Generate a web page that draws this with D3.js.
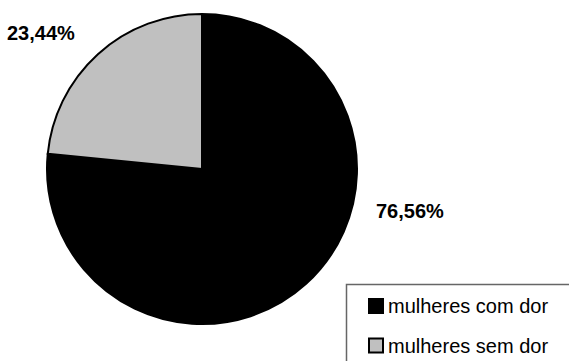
<!DOCTYPE html>
<html>
<head>
    <meta charset="utf-8">
    <title>Pie Chart</title>
    <script src="https://d3js.org/d3.v7.min.js"></script>
    <style>
        body { margin: 0; background: #fff; }
        text { font-family: "Liberation Sans", Arial, sans-serif; }
    </style>
</head>
<body>
    <script>
        // Data
        const categories = ["mulheres com dor", "mulheres sem dor"];
        const values = [76.56, 23.44];
        const valueLabels = ["76,56%", "23,44%"];
        const colors = ["#000000", "#c0c0c0"];

        const width = 569, height = 361;
        const cx = 202, cy = 169, radius = 155;

        const svg = d3.select("body")
            .append("svg")
            .attr("width", width)
            .attr("height", height);

        // Pie layout, starting at 12 o'clock, clockwise, no sorting
        const pie = d3.pie()
            .sort(null)
            .value(d => d)(values);

        const arc = d3.arc()
            .innerRadius(0)
            .outerRadius(radius);

        const g = svg.append("g")
            .attr("transform", "translate(" + cx + "," + cy + ")");

        g.selectAll(".slice")
            .data(pie)
            .enter()
            .append("path")
            .attr("class", "slice")
            .attr("d", arc)
            .style("fill", (d, i) => colors[i])
            .style("stroke", "#000")
            .style("stroke-width", 2);

        // Percentage labels
        const labelPos = [[376, 218], [7, 40]];
        svg.selectAll(".pct")
            .data(valueLabels)
            .enter()
            .append("text")
            .attr("class", "pct")
            .attr("x", (d, i) => labelPos[i][0])
            .attr("y", (d, i) => labelPos[i][1])
            .style("font-size", "20px")
            .style("font-weight", "bold")
            .text(d => d);

        // Legend
        const legend = svg.append("g")
            .attr("transform", "translate(346,284)");

        legend.append("rect")
            .attr("x", 0.5)
            .attr("y", 0.5)
            .attr("width", 260)
            .attr("height", 120)
            .style("fill", "#fff")
            .style("stroke", "#666")
            .style("stroke-width", 1.5);

        const item = legend.selectAll(".item")
            .data(categories)
            .enter()
            .append("g")
            .attr("class", "item")
            .attr("transform", (d, i) => "translate(0," + (i * 39.5) + ")");

        item.append("rect")
            .attr("x", 23)
            .attr("y", 15)
            .attr("width", 14)
            .attr("height", 14)
            .style("fill", (d, i) => colors[i])
            .style("stroke", "#000")
            .style("stroke-width", 2);

        item.append("text")
            .attr("x", 42)
            .attr("y", 29)
            .style("font-size", "20px")
            .text(d => d);
    </script>
</body>
</html>
